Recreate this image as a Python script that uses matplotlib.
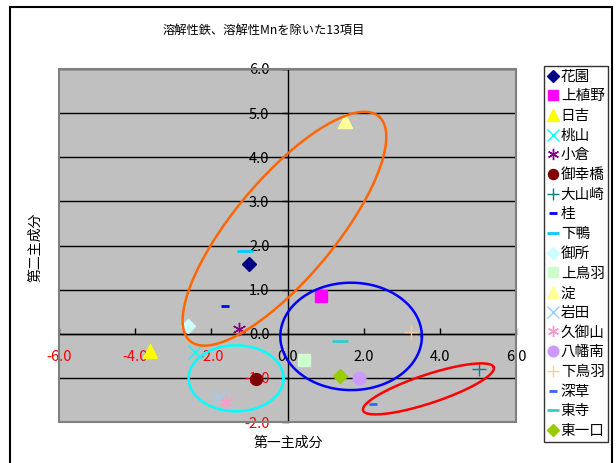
import numpy as np
import matplotlib.pyplot as plt
from matplotlib.patches import Rectangle

plt.rcParams['font.family'] = ['Noto Sans CJK JP', 'DejaVu Sans']

# 主成分得点 (第一主成分, 第二主成分)
sites = ['花園', '上植野', '日吉', '桃山', '小倉', '御幸橋', '大山崎', '桂', '下鴨', '御所',
         '上鳥羽', '淀', '岩田', '久御山', '八幡南', '下鳥羽', '深草', '東寺', '東一口']
pc1 = [-1.02, 0.89, -3.60, -2.42, -1.28, -0.82, 5.04, -1.65, -1.11, -2.61,
       0.43, 1.50, -1.80, -1.61, 1.87, 3.25, 2.24, 1.38, 1.37]
pc2 = [1.58, 0.85, -0.39, -0.41, 0.10, -1.02, -0.79, 0.62, 1.88, 0.17,
       -0.60, 4.82, -1.43, -1.55, -1.00, 0.03, -1.60, -0.16, -0.96]

xticks = [-6.0, -4.0, -2.0, 0.0, 2.0, 4.0, 6.0]
yticks = [-2.0, -1.0, 0.0, 1.0, 2.0, 3.0, 4.0, 5.0, 6.0]

# marker, size, color for each site
styles = [('D', 7, '#000080'), ('s', 9, '#FF00FF'), ('^', 9.5, '#FFFF00'),
          ('x', 9.5, '#00FFFF'), ((6, 2, 0), 9.5, '#800080'), ('o', 8.5, '#800000'),
          ('+', 10, '#008080'), ('_', 6, '#0000FF'), ('_', 11, '#00CCFF'),
          ('D', 7, '#CCFFFF'), ('s', 9, '#CCFFCC'), ('^', 9.5, '#FFFF99'),
          ('x', 9.5, '#99CCFF'), ((6, 2, 0), 9.5, '#FF99CC'), ('o', 9, '#CC99FF'),
          ('+', 10, '#FFCC99'), ('_', 6, '#3366FF'), ('_', 11, '#33CCCC'),
          ('D', 7, '#99CC00')]

fig = plt.figure(figsize=(6.16, 4.63), dpi=100)
fig.patch.set_facecolor('white')
ax = fig.add_axes([59 / 616, 1 - 422 / 463, 457 / 616, 353 / 463])
ax.set_facecolor('#C0C0C0')
ax.set_xlim(-6, 6)
ax.set_ylim(-2, 6)

# horizontal grid
for y in yticks:
    ax.axhline(y, color='black', lw=1.0, zorder=1)

# axes cross at the origin, plot area gets a gray frame
ax.spines['left'].set_position(('data', 0))
ax.spines['bottom'].set_position(('data', 0))
ax.spines['right'].set_visible(False)
ax.spines['top'].set_visible(False)
for s in ['left', 'bottom']:
    ax.spines[s].set_color('black')
    ax.spines[s].set_linewidth(1.0)
    ax.spines[s].set_zorder(2)
ax.add_patch(Rectangle((0, 0), 1, 1, transform=ax.transAxes, fill=False,
                       edgecolor='#808080', lw=1.5, zorder=3, clip_on=False))

ax.set_xticks(xticks)
ax.set_yticks(yticks)
ax.set_xticklabels(['%.1f' % v for v in xticks])
ax.set_yticklabels(['%.1f' % v for v in yticks])
ax.tick_params(axis='x', direction='in', length=4, width=1, pad=12, labelsize=10.5)
ax.tick_params(axis='y', direction='out', length=4, width=1, pad=9, labelsize=10.5)
for lab, v in zip(ax.get_xticklabels(), xticks):
    lab.set_color('red' if v < 0 else 'black')
for lab, v in zip(ax.get_yticklabels(), yticks):
    lab.set_color('red' if v < 0 else 'black')

for name, x, y, (m, ms, c) in zip(sites, pc1, pc2, styles):
    lw = 2 if m == '_' else 1
    ax.plot([x], [y], linestyle='none', marker=m, markersize=ms, color=c,
            markeredgecolor=c, markeredgewidth=lw, label=name, zorder=4, clip_on=False)

# グループの楕円 (中心はデータ座標, 半径と角度は画面上のピクセル)
fig.canvas.draw()
bb = ax.get_window_extent()
sx = bb.width / 12.0
sy = bb.height / 8.0


def group_ellipse(cx, cy, a, b, angle, color):
    t = np.linspace(0, 2 * np.pi, 300)
    th = np.deg2rad(angle)
    u = a * np.cos(t)
    v = b * np.sin(t)
    px = u * np.cos(th) - v * np.sin(th)
    py = u * np.sin(th) + v * np.cos(th)
    ax.plot(cx + px / sx, cy + py / sy, color=color, lw=1.8, zorder=5, clip_on=False)


group_ellipse(-0.08, 2.38, 146.7, 50.2, 50.0, '#FF6600')
group_ellipse(-1.35, -1.01, 47.5, 33.0, 0.0, '#00FFFF')
group_ellipse(1.67, -0.06, 70.8, 53.7, 0.0, '#0000FF')
group_ellipse(3.70, -1.25, 68.8, 14.3, 18.3, '#FF0000')

leg = ax.legend(loc='upper left', bbox_to_anchor=(544 / 616, 1 - 66 / 463),
                bbox_transform=fig.transFigure, borderaxespad=0, fontsize=10.5,
                frameon=True, fancybox=False, edgecolor='black', labelspacing=0.39,
                handlelength=0.7, handletextpad=0.2, borderpad=0.25, numpoints=1,
                markerscale=0.85)
leg.get_frame().set_linewidth(1.0)

fig.text(264 / 616, 1 - 30 / 463, '溶解性鉄、溶解性Mnを除いた13項目', ha='center', va='center', fontsize=8.8)
fig.text(35 / 616, 1 - 247 / 463, '第二主成分', ha='center', va='center', rotation=90, fontsize=10)
fig.text(288 / 616, 1 - 443 / 463, '第一主成分', ha='center', va='center', fontsize=10)

# chart border
fig.patches.append(Rectangle((10 / 616, -0.05), 602 / 616, 1.05 - 7 / 463,
                             transform=fig.transFigure, fill=False, edgecolor='black',
                             lw=1.5, figure=fig))

plt.savefig('out.png', dpi=100)
